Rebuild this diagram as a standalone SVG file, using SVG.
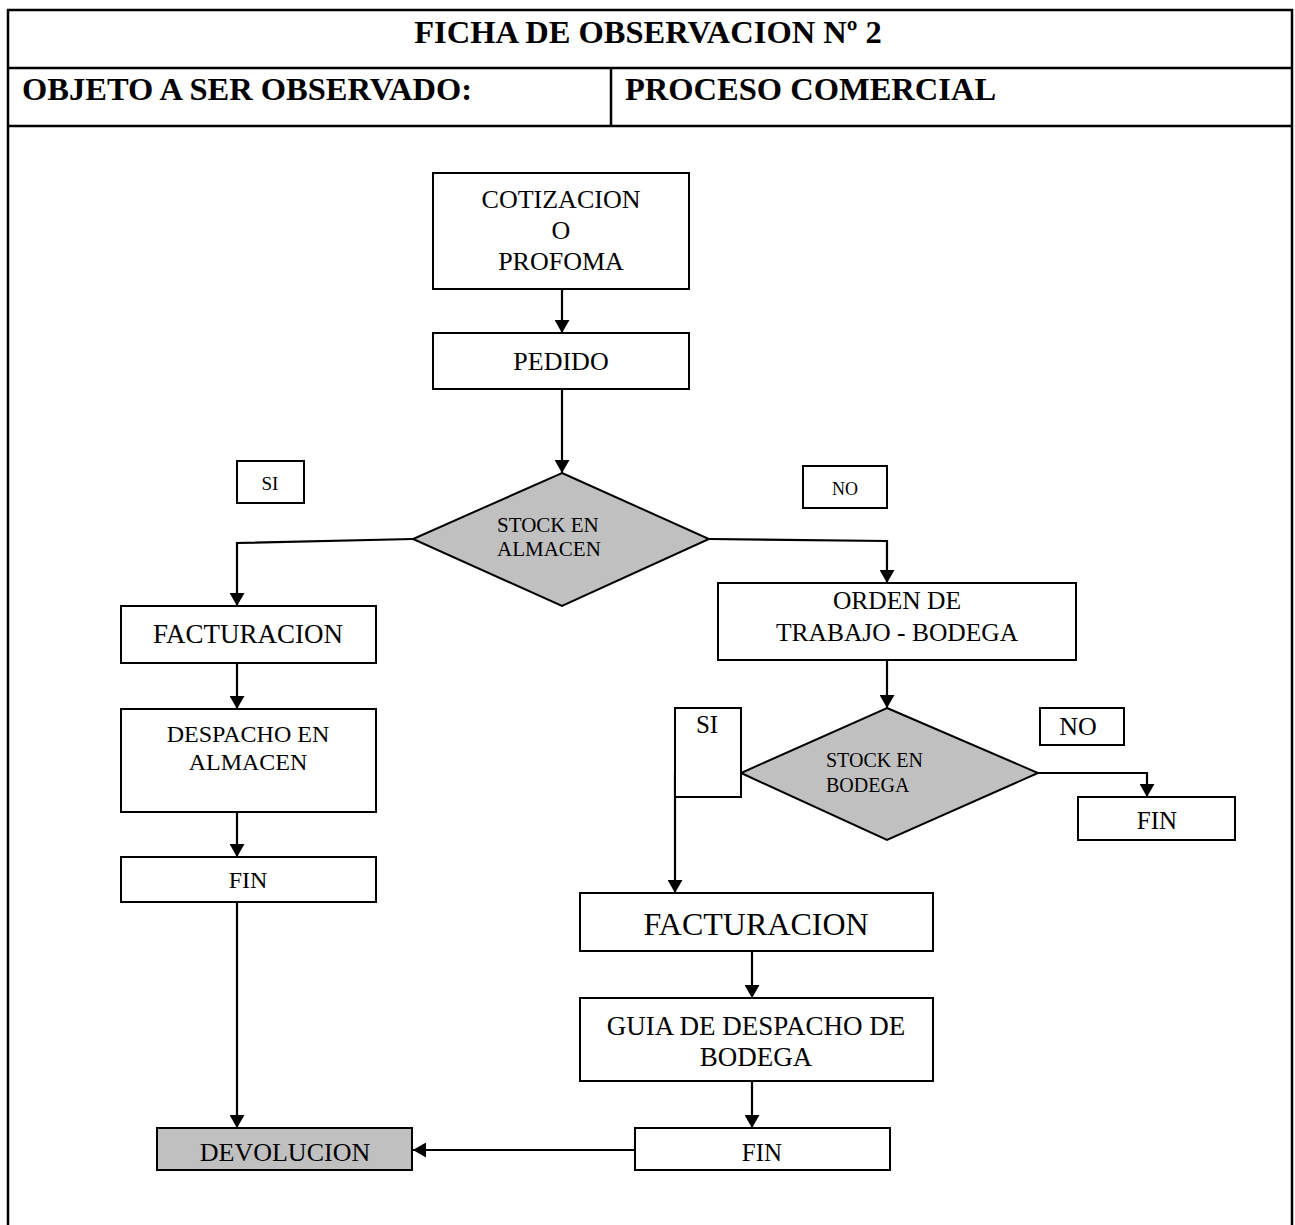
<svg xmlns="http://www.w3.org/2000/svg" width="1295" height="1225" viewBox="0 0 1295 1225">
  <defs>
    <marker id="arrow" viewBox="0 0 13 15" refX="13" refY="7.5" markerWidth="13" markerHeight="15" markerUnits="userSpaceOnUse" orient="auto">
      <path d="M0,0 L13,7.5 L0,15 Z" fill="#000"/>
    </marker>
    <style>
      .frame { fill: none; stroke: #000; stroke-width: 2.5; }
      .box { fill: #fff; stroke: #000; stroke-width: 2; }
      .shade { fill: #c0c0c0; stroke: #000; stroke-width: 2; }
      .link { fill: none; stroke: #000; stroke-width: 2.2; marker-end: url(#arrow); }
      .hdr { font-family: "Liberation Serif", "Times New Roman", serif; font-weight: bold; font-size: 32.5px; fill: #000; }
      .t { font-family: "Liberation Serif", "Times New Roman", serif; fill: #000; text-anchor: middle; }
      .ts { font-family: "Liberation Serif", "Times New Roman", serif; fill: #000; }
    </style>
  </defs>

  <!-- form frame -->
  <g id="form">
    <path class="frame" d="M8,1230 L8,10 L1292,10 L1292,1230"/>
    <line class="frame" x1="8" y1="68" x2="1292" y2="68"/>
    <line class="frame" x1="8" y1="126" x2="1292" y2="126"/>
    <line class="frame" x1="611" y1="68" x2="611" y2="126"/>
    <text class="hdr" x="648" y="43" text-anchor="middle">FICHA DE OBSERVACION Nº 2</text>
    <text class="hdr" x="22" y="100">OBJETO A SER OBSERVADO:</text>
    <text class="hdr" x="625" y="100">PROCESO COMERCIAL</text>
  </g>

  <!-- connectors -->
  <g id="connectors">
    <line class="link" x1="562" y1="289" x2="562" y2="333"/>
    <line class="link" x1="562" y1="389" x2="562" y2="473"/>
    <polyline class="link" points="413,539 237,543 237,606"/>
    <polyline class="link" points="709,539 887,541 887,583"/>
    <line class="link" x1="237" y1="663" x2="237" y2="709"/>
    <line class="link" x1="237" y1="812" x2="237" y2="857"/>
    <line class="link" x1="237" y1="902" x2="237" y2="1128"/>
    <line class="link" x1="887" y1="660" x2="887" y2="708"/>
    <polyline class="link" points="1038,773 1147,773 1147,797"/>
    <polyline class="link" points="741,773 675,773 675,893"/>
    <line class="link" x1="752" y1="951" x2="752" y2="998"/>
    <line class="link" x1="752" y1="1081" x2="752" y2="1128"/>
    <line class="link" x1="635" y1="1150" x2="413" y2="1150"/>
  </g>

  <g id="cotizacion">
    <rect class="box" x="433" y="173" width="256" height="116"/>
    <text class="t" x="561" y="208" font-size="26">COTIZACION</text>
    <text class="t" x="561" y="239" font-size="26">O</text>
    <text class="t" x="561" y="270" font-size="26">PROFOMA</text>
  </g>

  <g id="pedido">
    <rect class="box" x="433" y="333" width="256" height="56"/>
    <text class="t" x="561" y="370" font-size="26">PEDIDO</text>
  </g>

  <g id="si-almacen">
    <rect class="box" x="237" y="461" width="67" height="42"/>
    <text class="t" x="270" y="490" font-size="19">SI</text>
  </g>

  <g id="no-almacen">
    <rect class="box" x="803" y="466" width="84" height="42"/>
    <text class="t" x="845" y="495" font-size="18">NO</text>
  </g>

  <g id="stock-almacen">
    <polygon class="shade" points="562,473 709,539 562,606 413,539"/>
    <text class="ts" x="497" y="532" font-size="21">STOCK EN</text>
    <text class="ts" x="497" y="556" font-size="21">ALMACEN</text>
  </g>

  <g id="facturacion-almacen">
    <rect class="box" x="121" y="606" width="255" height="57"/>
    <text class="t" x="248" y="643" font-size="27">FACTURACION</text>
  </g>

  <g id="despacho-almacen">
    <rect class="box" x="121" y="709" width="255" height="103"/>
    <text class="t" x="248" y="742" font-size="24">DESPACHO EN</text>
    <text class="t" x="248" y="770" font-size="24">ALMACEN</text>
  </g>

  <g id="fin-almacen">
    <rect class="box" x="121" y="857" width="255" height="45"/>
    <text class="t" x="248" y="888" font-size="24">FIN</text>
  </g>

  <g id="orden-trabajo">
    <rect class="box" x="718" y="583" width="358" height="77"/>
    <text class="t" x="897" y="609" font-size="25.5">ORDEN DE</text>
    <text class="t" x="897" y="641" font-size="25.5">TRABAJO - BODEGA</text>
  </g>

  <g id="stock-bodega">
    <polygon class="shade" points="887,708 1038,773 887,840 741,773"/>
    <text class="ts" x="826" y="767" font-size="20">STOCK EN</text>
    <text class="ts" x="826" y="792" font-size="20">BODEGA</text>
  </g>

  <g id="si-bodega">
    <rect class="box" x="675" y="708" width="66" height="89"/>
    <text class="t" x="707" y="733" font-size="25">SI</text>
  </g>

  <g id="no-bodega">
    <rect class="box" x="1040" y="708" width="84" height="37"/>
    <text class="t" x="1078" y="735" font-size="26">NO</text>
  </g>

  <g id="fin-bodega">
    <rect class="box" x="1078" y="797" width="157" height="43"/>
    <text class="t" x="1157" y="829" font-size="25">FIN</text>
  </g>

  <g id="facturacion-bodega">
    <rect class="box" x="580" y="893" width="353" height="58"/>
    <text class="t" x="756" y="935" font-size="32">FACTURACION</text>
  </g>

  <g id="guia-despacho">
    <rect class="box" x="580" y="998" width="353" height="83"/>
    <text class="t" x="756" y="1035" font-size="27">GUIA DE DESPACHO DE</text>
    <text class="t" x="756" y="1066" font-size="27">BODEGA</text>
  </g>

  <g id="fin-final">
    <rect class="box" x="635" y="1128" width="255" height="42"/>
    <text class="t" x="762" y="1161" font-size="25">FIN</text>
  </g>

  <g id="devolucion">
    <rect class="shade" x="157" y="1128" width="255" height="42"/>
    <text class="t" x="285" y="1161" font-size="26">DEVOLUCION</text>
  </g>
</svg>
